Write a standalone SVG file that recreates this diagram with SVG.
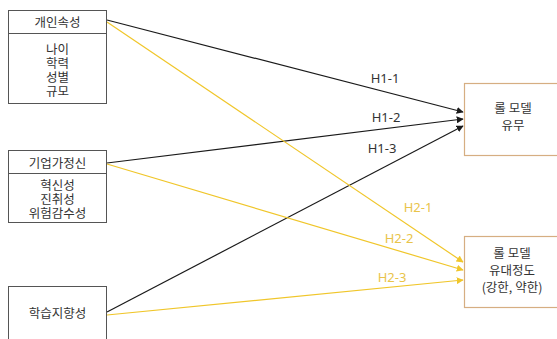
<svg xmlns="http://www.w3.org/2000/svg" width="557" height="339" viewBox="0 0 557 339">
  <style>
    text { font-family: "Noto Sans CJK KR", "Noto Sans", sans-serif; font-size: 12.5px; fill: #333; text-anchor: middle; }
    .box { fill: #fff; stroke: #555; stroke-width: 1; }
    .tbox { fill: #fff; stroke: #D6AE82; stroke-width: 1.2; }
    .blk { stroke: #1a1a1a; stroke-width: 1.2; fill: none; marker-end: url(#ah-black); }
    .yel { stroke: #F0C62A; stroke-width: 1.2; fill: none; marker-end: url(#ah-yellow); }
    .lbl-k { fill: #333; font-family: "Noto Sans", sans-serif; font-size: 13px; }
    .lbl-y { fill: #E9C44A; font-family: "Noto Sans", sans-serif; font-size: 13px; }
  </style>
  <defs>
    <marker id="ah-black" viewBox="0 0 10 10" refX="9" refY="5" markerWidth="7" markerHeight="7" markerUnits="userSpaceOnUse" orient="auto">
      <path d="M0,0 L10,5 L0,10 z" fill="#1a1a1a"/>
    </marker>
    <marker id="ah-yellow" viewBox="0 0 10 10" refX="9" refY="5" markerWidth="7" markerHeight="7" markerUnits="userSpaceOnUse" orient="auto">
      <path d="M0,0 L10,5 L0,10 z" fill="#F0C62A"/>
    </marker>
  </defs>

  <rect width="557" height="339" fill="#fff"/>

  <!-- connectors -->
  <g id="connectors">
    <line class="blk" x1="107" y1="20" x2="463" y2="112"/>
    <line class="blk" x1="107" y1="163" x2="463" y2="119"/>
    <line class="blk" x1="107" y1="312" x2="463" y2="126"/>
    <line class="yel" x1="107" y1="22" x2="463" y2="262"/>
    <line class="yel" x1="107" y1="164" x2="463" y2="270"/>
    <line class="yel" x1="107" y1="315" x2="463" y2="280"/>
    <text class="lbl-k" x="385" y="83">H1-1</text>
    <text class="lbl-k" x="386" y="122">H1-2</text>
    <text class="lbl-k" x="382" y="153">H1-3</text>
    <text class="lbl-y" x="418" y="212">H2-1</text>
    <text class="lbl-y" x="399" y="243">H2-2</text>
    <text class="lbl-y" x="392" y="282">H2-3</text>
  </g>

  <!-- individual attributes -->
  <g id="node-personal">
    <rect class="box" x="8.5" y="10.5" width="98" height="93"/>
    <line x1="8.5" y1="33.5" x2="106.5" y2="33.5" stroke="#555" stroke-width="1"/>
    <text x="57.5" y="27">개인속성</text>
    <text x="57.5" y="53.5">나이</text>
    <text x="57.5" y="67.5">학력</text>
    <text x="57.5" y="81.5">성별</text>
    <text x="57.5" y="95.5">규모</text>
  </g>

  <!-- entrepreneurship -->
  <g id="node-entrepreneur">
    <rect class="box" x="8.5" y="150.5" width="98" height="72"/>
    <line x1="8.5" y1="173.5" x2="106.5" y2="173.5" stroke="#555" stroke-width="1"/>
    <text x="57.5" y="168">기업가정신</text>
    <text x="57.5" y="190">혁신성</text>
    <text x="57.5" y="204">진취성</text>
    <text x="57.5" y="218">위험감수성</text>
  </g>

  <!-- learning orientation -->
  <g id="node-learning">
    <rect class="box" x="8.5" y="286.5" width="98" height="60"/>
    <text x="57.5" y="318">학습지향성</text>
  </g>

  <!-- role model presence -->
  <g id="node-rolemodel">
    <rect class="tbox" x="464.5" y="83.5" width="100" height="72"/>
    <text x="513" y="113">롤 모델</text>
    <text x="513" y="130">유무</text>
  </g>

  <!-- role model bond strength -->
  <g id="node-bond">
    <rect class="tbox" x="464.5" y="236.5" width="100" height="71"/>
    <text x="512" y="258">롤 모델</text>
    <text x="512" y="275">유대정도</text>
    <text x="512" y="292">(강한, 약한)</text>
  </g>
</svg>
